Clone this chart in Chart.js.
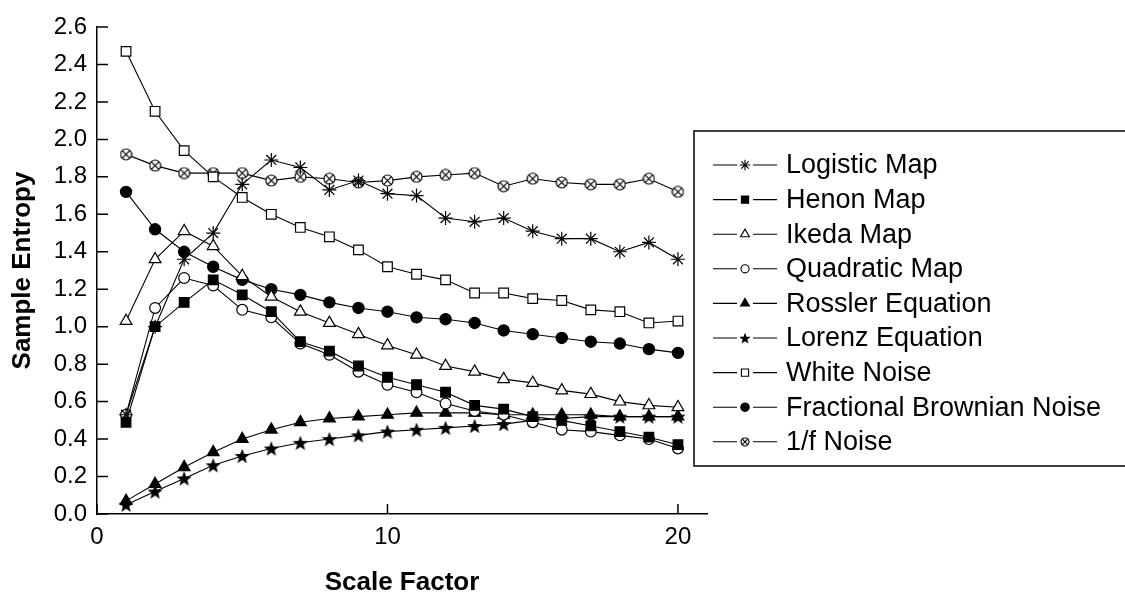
<!DOCTYPE html>
<html>
<head>
<meta charset="utf-8">
<script src="https://cdn.jsdelivr.net/npm/chart.js@4.4.0/dist/chart.umd.min.js"></script>
<style>
  html, body { margin: 0; padding: 0; background: #fff; }
</style>
</head>
<body>
<canvas id="entropyChart" width="1125" height="598"></canvas>
<script>
// scale factors 1..20
const scaleFactors = [1, 2, 3, 4, 5, 6, 7, 8, 9, 10, 11, 12, 13, 14, 15, 16, 17, 18, 19, 20];

const logisticMap   = [0.53, 1.00, 1.36, 1.50, 1.76, 1.89, 1.85, 1.73, 1.78, 1.71, 1.70, 1.58, 1.56, 1.58, 1.51, 1.47, 1.47, 1.40, 1.45, 1.36];
const henonMap      = [0.49, 1.00, 1.13, 1.25, 1.17, 1.08, 0.92, 0.87, 0.79, 0.73, 0.69, 0.65, 0.58, 0.56, 0.52, 0.50, 0.47, 0.44, 0.41, 0.37];
const ikedaMap      = [1.03, 1.36, 1.51, 1.43, 1.27, 1.16, 1.08, 1.02, 0.96, 0.90, 0.85, 0.79, 0.76, 0.72, 0.70, 0.66, 0.64, 0.60, 0.58, 0.57];
const quadraticMap  = [0.53, 1.10, 1.26, 1.22, 1.09, 1.05, 0.91, 0.85, 0.76, 0.69, 0.65, 0.59, 0.55, 0.53, 0.49, 0.45, 0.44, 0.42, 0.40, 0.35];
const rosslerEq     = [0.07, 0.16, 0.25, 0.33, 0.40, 0.45, 0.49, 0.51, 0.52, 0.53, 0.54, 0.54, 0.54, 0.53, 0.53, 0.53, 0.53, 0.52, 0.52, 0.52];
const lorenzEq      = [0.05, 0.12, 0.19, 0.26, 0.31, 0.35, 0.38, 0.40, 0.42, 0.44, 0.45, 0.46, 0.47, 0.48, 0.50, 0.51, 0.52, 0.52, 0.52, 0.52];
const whiteNoise    = [2.47, 2.15, 1.94, 1.80, 1.69, 1.60, 1.53, 1.48, 1.41, 1.32, 1.28, 1.25, 1.18, 1.18, 1.15, 1.14, 1.09, 1.08, 1.02, 1.03];
const fbnNoise      = [1.72, 1.52, 1.40, 1.32, 1.25, 1.20, 1.17, 1.13, 1.10, 1.08, 1.05, 1.04, 1.02, 0.98, 0.96, 0.94, 0.92, 0.91, 0.88, 0.86];
const oneOverF      = [1.92, 1.86, 1.82, 1.82, 1.82, 1.78, 1.80, 1.79, 1.77, 1.78, 1.80, 1.81, 1.82, 1.75, 1.79, 1.77, 1.76, 1.76, 1.79, 1.72];

const seriesNames = ['Logistic Map', 'Henon Map', 'Ikeda Map', 'Quadratic Map', 'Rossler Equation',
                     'Lorenz Equation', 'White Noise', 'Fractional Brownian Noise', '1/f Noise'];

const yTicks = [0.0, 0.2, 0.4, 0.6, 0.8, 1.0, 1.2, 1.4, 1.6, 1.8, 2.0, 2.2, 2.4, 2.6];
const xTicks = [0, 10, 20];

const FONT = "'Liberation Sans', Arial, sans-serif";

// custom markers (5-point star, crossed circle)
function makeStar(size) {
  const c = document.createElement('canvas');
  c.width = c.height = size;
  const g = c.getContext('2d');
  const cx = size / 2, cy = size / 2 + 0.7, R = size / 2, r = R * 0.42;
  g.beginPath();
  for (let i = 0; i < 10; i++) {
    const a = -Math.PI / 2 + i * Math.PI / 5;
    const rad = i % 2 === 0 ? R : r;
    g.lineTo(cx + Math.cos(a) * rad, cy + Math.sin(a) * rad);
  }
  g.closePath();
  g.fillStyle = '#000';
  g.fill();
  return c;
}

function makeCrossCircle(size) {
  const c = document.createElement('canvas');
  c.width = c.height = size;
  const g = c.getContext('2d');
  const cx = size / 2, cy = size / 2, R = size / 2 - 1;
  g.beginPath();
  g.arc(cx, cy, R, 0, Math.PI * 2);
  g.fillStyle = '#fff';
  g.fill();
  g.lineWidth = 1.2;
  g.strokeStyle = '#000';
  g.stroke();
  const d = R * 0.7;
  g.beginPath();
  g.moveTo(cx - d, cy - d); g.lineTo(cx + d, cy + d);
  g.moveTo(cx + d, cy - d); g.lineTo(cx - d, cy + d);
  g.stroke();
  return c;
}

const starMark = makeStar(16);
const crossMark = makeCrossCircle(13);
const starMarkSmall = makeStar(12);
const crossMarkSmall = makeCrossCircle(10);

function toPoints(values) {
  return values.map((v, i) => ({ x: scaleFactors[i], y: v }));
}

const markerSpecs = [
  { data: logisticMap,  style: 'star',     radius: 7,   fill: '#000' },
  { data: henonMap,     style: 'rect',     radius: 6.8, fill: '#000' },
  { data: ikedaMap,     style: 'triangle', radius: 6.8, fill: '#fff' },
  { data: quadraticMap, style: 'circle',   radius: 5.4, fill: '#fff' },
  { data: rosslerEq,    style: 'triangle', radius: 6.8, fill: '#000' },
  { data: lorenzEq,     style: starMark,   radius: 7,   fill: '#000', small: starMarkSmall },
  { data: whiteNoise,   style: 'rect',     radius: 6.8, fill: '#fff' },
  { data: fbnNoise,     style: 'circle',   radius: 5.6, fill: '#000' },
  { data: oneOverF,     style: crossMark,  radius: 6.5, fill: '#fff', small: crossMarkSmall }
];

const datasets = markerSpecs.map((m, i) => ({
  label: seriesNames[i],
  data: toPoints(m.data),
  borderColor: '#000',
  borderWidth: 1.1,
  pointStyle: m.style,
  pointRadius: m.radius,
  pointBackgroundColor: m.fill,
  pointBorderColor: '#000',
  pointBorderWidth: 1.2,
  tension: 0,
  fill: false,
  showLine: true
}));

// inward ticks + boxed legend with line-marker-line samples
const decorPlugin = {
  id: 'decor',
  afterDraw(chart) {
    const ctx = chart.ctx;
    const xs = chart.scales.x, ys = chart.scales.y;
    const area = chart.chartArea;
    ctx.save();
    ctx.strokeStyle = '#000';
    ctx.lineWidth = 1.5;
    ctx.beginPath();
    yTicks.forEach(v => {
      const py = ys.getPixelForValue(v);
      ctx.moveTo(area.left, py);
      ctx.lineTo(area.left + 11, py);
    });
    xTicks.forEach(v => {
      const px = xs.getPixelForValue(v);
      ctx.moveTo(px, area.bottom);
      ctx.lineTo(px, area.bottom - 10);
    });
    ctx.stroke();

    // legend
    const boxLeft = 694, boxTop = 131, boxBottom = 466;
    ctx.lineWidth = 1.5;
    ctx.strokeRect(boxLeft, boxTop, 1125 - boxLeft + 5, boxBottom - boxTop);
    const helpers = Chart.helpers;
    chart.data.datasets.forEach((ds, i) => {
      const y = 165 + i * 34.6;
      ctx.strokeStyle = '#000';
      ctx.lineWidth = 1.1;
      ctx.beginPath();
      ctx.moveTo(713, y);
      ctx.lineTo(737, y);
      ctx.moveTo(753, y);
      ctx.lineTo(777, y);
      ctx.stroke();
      const spec = markerSpecs[i];
      if (typeof spec.style === 'string') {
        ctx.fillStyle = spec.fill;
        ctx.strokeStyle = '#000';
        ctx.lineWidth = 1.1;
        helpers.drawPoint(ctx, { pointStyle: spec.style, radius: spec.radius * 0.75, borderWidth: 1.1, rotation: 0 }, 745, y);
      } else {
        const img = spec.small;
        ctx.drawImage(img, 745 - img.width / 2, y - img.height / 2);
      }
      ctx.fillStyle = '#000';
      ctx.font = '27px ' + FONT;
      ctx.textBaseline = 'middle';
      ctx.textAlign = 'left';
      ctx.fillText(ds.label, 786, y + 1);
    });
    ctx.restore();
  }
};

new Chart(document.getElementById('entropyChart'), {
  type: 'line',
  data: { datasets: datasets },
  plugins: [decorPlugin],
  options: {
    responsive: false,
    animation: false,
    devicePixelRatio: 1,
    layout: { padding: { left: 0, right: 418, top: 27, bottom: 0 } },
    plugins: { legend: { display: false }, tooltip: { enabled: false } },
    scales: {
      x: {
        type: 'linear',
        min: 0,
        max: 21,
        afterFit(scale) { scale.height = 84; },
        afterBuildTicks(scale) { scale.ticks = xTicks.map(v => ({ value: v })); },
        grid: { drawOnChartArea: false, drawTicks: false },
        border: { display: true, color: '#000', width: 1.5 },
        ticks: { color: '#000', padding: 9, font: { family: FONT, size: 24 } },
        title: { display: true, text: 'Scale Factor', color: '#000', padding: { top: 0, bottom: 0 },
                 font: { family: FONT, size: 26, weight: 'bold' } }
      },
      y: {
        min: 0,
        max: 2.6,
        afterFit(scale) { scale.width = 97; },
        afterBuildTicks(scale) { scale.ticks = yTicks.map(v => ({ value: v })); },
        grid: { drawOnChartArea: false, drawTicks: false },
        border: { display: true, color: '#000', width: 1.5 },
        ticks: { color: '#000', padding: 10, font: { family: FONT, size: 24 },
                 callback: v => Number(v).toFixed(1) },
        title: { display: true, text: 'Sample Entropy', color: '#000', padding: { top: 7, bottom: 0 },
                 font: { family: FONT, size: 26, weight: 'bold' } }
      }
    }
  }
});
</script>
</body>
</html>
